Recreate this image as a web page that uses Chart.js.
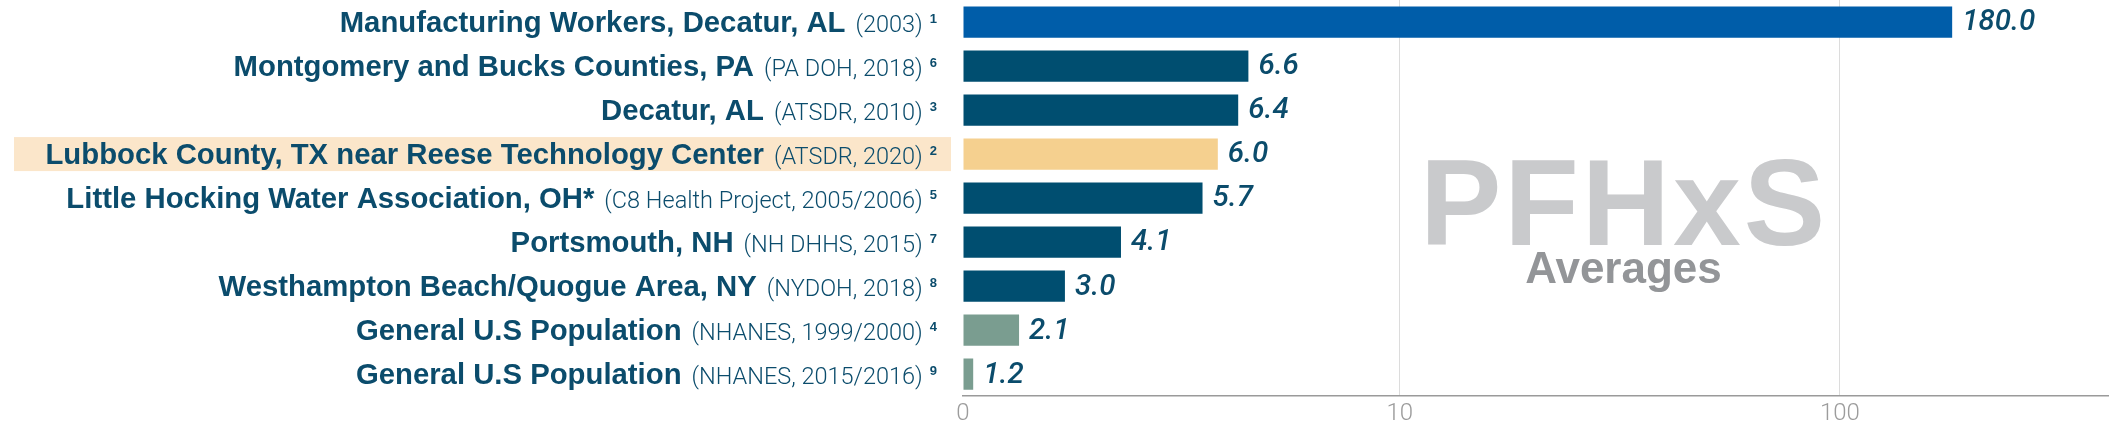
<!DOCTYPE html>
<html>
<head>
<meta charset="utf-8">
<script src="https://cdn.jsdelivr.net/npm/chart.js@4.4.1/dist/chart.umd.min.js"></script>
<style>
  html, body { margin: 0; padding: 0; background: #ffffff; }
  #wrap { width: 2109px; height: 438px; }
</style>
</head>
<body>
<div id="wrap"><canvas id="c" width="2109" height="438"></canvas></div>
<script>
// ---- data ----
const categories = [
  'Manufacturing Workers, Decatur, AL',
  'Montgomery and Bucks Counties, PA',
  'Decatur, AL',
  'Lubbock County, TX near Reese Technology Center',
  'Little Hocking Water Association, OH*',
  'Portsmouth, NH',
  'Westhampton Beach/Quogue Area, NY',
  'General U.S Population',
  'General U.S Population'
];
const sources = [
  '(2003)',
  '(PA DOH, 2018)',
  '(ATSDR, 2010)',
  '(ATSDR, 2020)',
  '(C8 Health Project, 2005/2006)',
  '(NH DHHS, 2015)',
  '(NYDOH, 2018)',
  '(NHANES, 1999/2000)',
  '(NHANES, 2015/2016)'
];
const footnotes = ['1', '6', '3', '2', '5', '7', '8', '4', '9'];
const values = [180.0, 6.6, 6.4, 6.0, 5.7, 4.1, 3.0, 2.1, 1.2];
const groups = ['occupational', 'community', 'community', 'highlight', 'community', 'community', 'community', 'general', 'general'];
const xTickValues = [0, 10, 100];
const xTickLabels = ['0', '10', '100'];
const titleText = 'PFHxS';
const subtitleText = 'Averages';

// ---- styles ----
const groupColors = {
  occupational: '#005DA9',
  community: '#004E70',
  highlight: '#F5D08F',
  general: '#7A9D90'
};
const textColor = '#0B4C6C';
const BOLD = '"Liberation Sans", Arial, sans-serif';
const LIGHT = 'Roboto, "Liberation Sans", sans-serif';

// ---- custom axis: linear near the origin, logarithmic for larger values ----
class HybridLogScale extends Chart.LinearScale {
  static id = 'hybridlog';
  _params() {
    return {
      o: this.options.origin ?? 1,
      p: this.options.pivot ?? 10,
      L: this.options.linearSpan ?? 1
    };
  }
  _u(v) {
    const { o, p, L } = this._params();
    if (v <= o) return 0;
    if (v <= p) return (v - o) / (p - o) * L;
    return L + Math.log10(v / p);
  }
  buildTicks() {
    this.start = this.min;
    this.end = this.max;
    return (this.options.tickValues || []).map(v => ({ value: v }));
  }
  getPixelForValue(v) {
    if (v === null || v === undefined || isNaN(v)) return NaN;
    return this.getPixelForDecimal(this._u(v) / this._u(this.max));
  }
  getValueForPixel(px) {
    const { o, p, L } = this._params();
    const u = this.getDecimalForPixel(px) * this._u(this.max);
    return u <= L ? o + (u / L) * (p - o) : p * Math.pow(10, u - L);
  }
}
Chart.register(HybridLogScale);

// ---- plugin: category labels, highlight row, value labels, watermark ----
const decorPlugin = {
  id: 'decor',
  beforeDatasetsDraw(chart) {
    const ctx = chart.ctx;
    const y = chart.scales.y;
    ctx.save();
    groups.forEach((g, i) => {
      if (g !== 'highlight') return;
      const cy = y.getPixelForValue(i);
      ctx.fillStyle = '#FBE6CA';
      ctx.fillRect(14, cy - 17, 937, 34);
    });
    const cx = chart.chartArea.left + (chart.chartArea.right - chart.chartArea.left) * 0.5755;
    ctx.textAlign = 'center';
    ctx.textBaseline = 'alphabetic';
    ctx.fillStyle = '#C9CACC';
    ctx.font = 'bold 122px ' + BOLD;
    try { ctx.letterSpacing = '3px'; } catch (e) {}
    ctx.fillText(titleText, cx + 1.5, 245);
    try { ctx.letterSpacing = '0px'; } catch (e) {}
    ctx.fillStyle = '#939598';
    ctx.font = 'bold 44px ' + BOLD;
    ctx.fillText(subtitleText, cx + 1, 283);
    ctx.restore();
  },
  afterDatasetsDraw(chart) {
    const ctx = chart.ctx;
    const y = chart.scales.y;
    const meta = chart.getDatasetMeta(0);
    ctx.save();
    const right = 937;
    categories.forEach((name, i) => {
      const cy = y.getPixelForValue(i);
      const base = cy + 9.8;
      ctx.textBaseline = 'alphabetic';
      ctx.textAlign = 'right';
      ctx.fillStyle = textColor;
      ctx.font = 'bold 13px ' + BOLD;
      const wSup = ctx.measureText(footnotes[i]).width;
      ctx.fillText(footnotes[i], right, base - 8.5);
      let x = right - wSup - 7;
      ctx.font = '300 23.5px ' + LIGHT;
      const wSrc = ctx.measureText(sources[i]).width;
      ctx.fillText(sources[i], x, base);
      x -= wSrc + 10;
      ctx.font = 'bold 29.3px ' + BOLD;
      ctx.fillText(name, x, base);
    });
    ctx.font = 'italic 500 29.5px ' + LIGHT;
    ctx.textAlign = 'left';
    ctx.textBaseline = 'middle';
    ctx.fillStyle = textColor;
    meta.data.forEach((el, i) => {
      ctx.fillText(values[i].toFixed(1), el.x + 10, el.y + 1);
    });
    ctx.restore();
  }
};

function makeChart() {
  new Chart(document.getElementById('c'), {
    type: 'bar',
    data: {
      labels: categories,
      datasets: [{
        data: values,
        backgroundColor: groups.map(g => groupColors[g]),
        borderWidth: 0,
        barPercentage: 0.71,
        categoryPercentage: 1.0
      }]
    },
    options: {
      indexAxis: 'y',
      responsive: false,
      animation: false,
      devicePixelRatio: 1,
      layout: { padding: { top: 0, right: 0, bottom: 7, left: 0 } },
      plugins: {
        legend: { display: false },
        tooltip: { enabled: false },
        title: { display: false }
      },
      scales: {
        x: {
          type: 'hybridlog',
          min: 0,
          max: 409,
          origin: 1,
          pivot: 9.3,
          linearSpan: 0.9614,
          tickValues: xTickValues,
          position: 'bottom',
          grid: {
            drawTicks: false,
            color: ctx => (ctx.tick && ctx.tick.value === 0) ? 'rgba(0,0,0,0)' : '#DCDCDC',
            lineWidth: 1
          },
          border: { display: true, color: '#9A9A9A', width: 1.5 },
          ticks: {
            padding: 3,
            color: '#9C9C9C',
            font: { family: LIGHT, size: 24, weight: '300' },
            callback: (v, i) => xTickLabels[i],
            maxRotation: 0,
            autoSkip: false
          }
        },
        y: {
          type: 'category',
          grid: { display: false, drawTicks: false },
          border: { display: false },
          ticks: { display: false },
          afterFit: s => { s.width = 963; }
        }
      }
    },
    plugins: [decorPlugin]
  });
}

Promise.all([
  document.fonts.load('300 21px Roboto'),
  document.fonts.load('italic 500 28px Roboto'),
  document.fonts.load('bold 28px "Liberation Sans"')
]).then(makeChart, makeChart);
</script>
</body>
</html>
